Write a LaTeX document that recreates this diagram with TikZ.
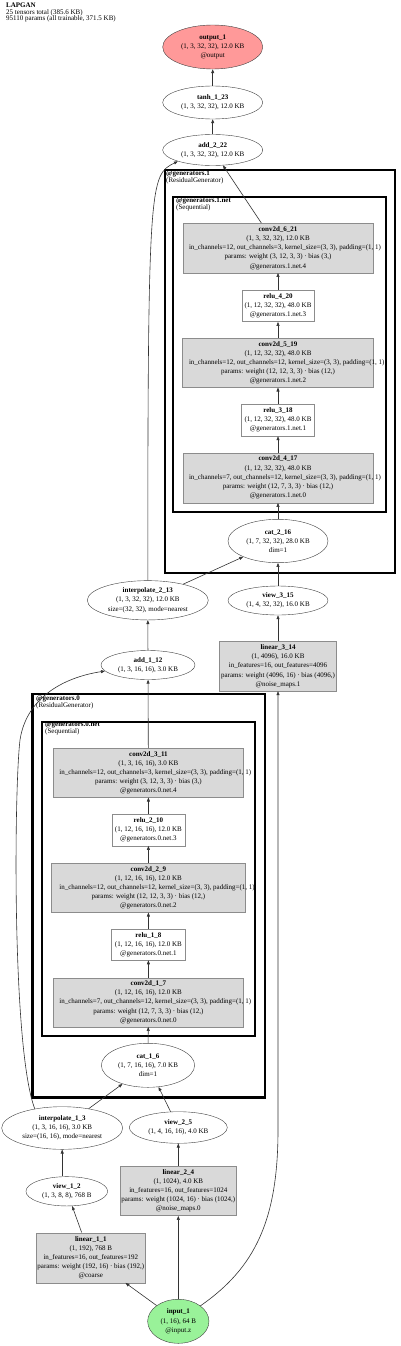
\documentclass[tikz,border=0pt]{standalone}
\usepackage{fontspec}
\setmainfont{Liberation Serif}
\usetikzlibrary{arrows.meta,positioning,shapes.geometric}
\definecolor{outred}{HTML}{FF9999}
\definecolor{ingreen}{HTML}{99F299}
\definecolor{opgray}{HTML}{D9D9D9}
\definecolor{edgegray}{HTML}{333333}
\newcommand{\nodefont}{\fontsize{7}{9.2}\selectfont}
\newcommand{\tightfont}{\fontsize{7}{6.8}\selectfont}
\newcommand{\longline}[1]{\makebox[178pt][l]{#1}}
\tikzset{
  tensorell/.style={ellipse, draw=black!75, fill=white, inner sep=0pt,
                    align=center, font=\nodefont},
  opbox/.style={rectangle, draw=black!45, fill=opgray, inner sep=1pt,
                align=center, font=\nodefont},
  relubox/.style={rectangle, draw=black!45, fill=white, inner sep=1pt,
                  align=center, font=\nodefont},
  genbox/.style={rectangle, draw=black, line width=2.6pt, inner sep=0pt},
  netbox/.style={rectangle, draw=black, line width=1.8pt, inner sep=0pt},
  clusterlbl/.style={anchor=north west, inner sep=0pt, align=left, font=\tightfont},
  arr/.style={-{Triangle[length=4pt,width=3pt]}, line width=0.6pt, draw=edgegray}}

\begin{document}
\begin{tikzpicture}[x=1pt,y=-1pt]
    \useasboundingbox (0,0) rectangle (400,1346);
    \node[clusterlbl] (summary) at (6,2.5)
      {\textbf{LAPGAN}\\25 tensors total (385.6 KB)\\95110 params (all trainable, 371.5 KB)};

    % residual generators
    \node[genbox, minimum width=230pt, minimum height=403pt] (gen1) at (280,371.5) {};
    \node[netbox, minimum width=213.3pt, minimum height=314.4pt] (gen1net) at (279.4,354.5) {};
    \node[clusterlbl] (gen1lbl) at (166,171) {\textbf{@generators.1}\\(ResidualGenerator)};
    \node[clusterlbl] (gen1netlbl) at (176,198) {\textbf{@generators.1.net}\\(Sequential)};
    \node[genbox, minimum width=232.7pt, minimum height=403.7pt] (gen0) at (148.7,895.9) {};
    \node[netbox, minimum width=213.3pt, minimum height=314.3pt] (gen0net) at (148.4,878.9) {};
    \node[clusterlbl] (gen0lbl) at (36,695.5) {\textbf{@generators.0}\\(ResidualGenerator)};
    \node[clusterlbl] (gen0netlbl) at (45,722) {\textbf{@generators.0.net}\\(Sequential)};

    % top
    \node[tensorell, fill=outred, minimum width=100pt, minimum height=44pt] (o1) at (212.7,47)
      {\textbf{output\_1}\\(1, 3, 32, 32), 12.0 KB\\@output};
    \node[tensorell, minimum width=100pt, minimum height=33pt] (t123) at (212.7,102.5)
      {\textbf{tanh\_1\_23}\\(1, 3, 32, 32), 12.0 KB};
    \node[tensorell, minimum width=100pt, minimum height=31pt] (a222) at (212.7,150)
      {\textbf{add\_2\_22}\\(1, 3, 32, 32), 12.0 KB};

    % generators.1.net
    \node[opbox, minimum width=190pt, minimum height=49.5pt] (c621) at (278,248)
      {\textbf{conv2d\_6\_21}\\(1, 3, 32, 32), 12.0 KB\\
       \longline{in\_channels=12, out\_channels=3, kernel\_size=(3, 3), padding=(1, 1)}\\
       params: weight (3, 12, 3, 3) · bias (3,)\\@generators.1.net.4};
    \node[relubox, minimum width=72.6pt, minimum height=31.7pt] (r420) at (278,305.8)
      {\textbf{relu\_4\_20}\\(1, 12, 32, 32), 48.0 KB\\@generators.1.net.3};
    \node[opbox, minimum width=191pt, minimum height=49pt] (c519) at (278,362.8)
      {\textbf{conv2d\_5\_19}\\(1, 12, 32, 32), 48.0 KB\\
       \longline{in\_channels=12, out\_channels=12, kernel\_size=(3, 3), padding=(1, 1)}\\
       params: weight (12, 12, 3, 3) · bias (12,)\\@generators.1.net.2};
    \node[relubox, minimum width=73pt, minimum height=32pt] (r318) at (278,420)
      {\textbf{relu\_3\_18}\\(1, 12, 32, 32), 48.0 KB\\@generators.1.net.1};
    \node[opbox, minimum width=190pt, minimum height=50pt] (c417) at (278,477.7)
      {\textbf{conv2d\_4\_17}\\(1, 12, 32, 32), 48.0 KB\\
       \longline{in\_channels=7, out\_channels=12, kernel\_size=(3, 3), padding=(1, 1)}\\
       params: weight (12, 7, 3, 3) · bias (12,)\\@generators.1.net.0};
    \node[tensorell, minimum width=100pt, minimum height=43.4pt] (c216) at (278,541)
      {\textbf{cat\_2\_16}\\(1, 7, 32, 32), 28.0 KB\\dim=1};

    % between the generators
    \node[tensorell, minimum width=121pt, minimum height=39.3pt] (i213) at (147.8,600.3)
      {\textbf{interpolate\_2\_13}\\(1, 3, 32, 32), 12.0 KB\\size=(32, 32), mode=nearest};
    \node[tensorell, minimum width=100pt, minimum height=29pt] (v315) at (278,600.5)
      {\textbf{view\_3\_15}\\(1, 4, 32, 32), 16.0 KB};
    \node[opbox, minimum width=116.7pt, minimum height=49.3pt] (l314) at (278,666.3)
      {\textbf{linear\_3\_14}\\(1, 4096), 16.0 KB\\in\_features=16, out\_features=4096\\
       params: weight (4096, 16) · bias (4096,)\\@noise\_maps.1};
    \node[tensorell, minimum width=94pt, minimum height=29pt] (a112) at (148,665)
      {\textbf{add\_1\_12}\\(1, 3, 16, 16), 3.0 KB};

    % generators.0.net
    \node[opbox, minimum width=190pt, minimum height=49pt] (c311) at (148.4,772.8)
      {\textbf{conv2d\_3\_11}\\(1, 3, 16, 16), 3.0 KB\\
       \longline{in\_channels=12, out\_channels=3, kernel\_size=(3, 3), padding=(1, 1)}\\
       params: weight (3, 12, 3, 3) · bias (3,)\\@generators.0.net.4};
    \node[relubox, minimum width=73.3pt, minimum height=31.4pt] (r210) at (148.4,830)
      {\textbf{relu\_2\_10}\\(1, 12, 16, 16), 12.0 KB\\@generators.0.net.3};
    \node[opbox, minimum width=193.6pt, minimum height=49pt] (c29) at (148.4,887.8)
      {\textbf{conv2d\_2\_9}\\(1, 12, 16, 16), 12.0 KB\\
       \longline{in\_channels=12, out\_channels=12, kernel\_size=(3, 3), padding=(1, 1)}\\
       params: weight (12, 12, 3, 3) · bias (12,)\\@generators.0.net.2};
    \node[relubox, minimum width=73.6pt, minimum height=30.7pt] (r18) at (148.4,944.7)
      {\textbf{relu\_1\_8}\\(1, 12, 16, 16), 12.0 KB\\@generators.0.net.1};
    \node[opbox, minimum width=190.4pt, minimum height=49pt] (c17) at (148.4,1002.2)
      {\textbf{conv2d\_1\_7}\\(1, 12, 16, 16), 12.0 KB\\
       \longline{in\_channels=7, out\_channels=12, kernel\_size=(3, 3), padding=(1, 1)}\\
       params: weight (12, 7, 3, 3) · bias (12,)\\@generators.0.net.0};
    \node[tensorell, minimum width=93.3pt, minimum height=44pt] (c16) at (148,1065.3)
      {\textbf{cat\_1\_6}\\(1, 7, 16, 16), 7.0 KB\\dim=1};

    % bottom
    \node[tensorell, minimum width=121pt, minimum height=42.6pt] (i13) at (62.2,1128)
      {\textbf{interpolate\_1\_3}\\(1, 3, 16, 16), 3.0 KB\\size=(16, 16), mode=nearest};
    \node[tensorell, minimum width=98pt, minimum height=31.6pt] (v25) at (178.3,1127.5)
      {\textbf{view\_2\_5}\\(1, 4, 16, 16), 4.0 KB};
    \node[opbox, minimum width=116pt, minimum height=49.7pt] (l24) at (178.3,1190.8)
      {\textbf{linear\_2\_4}\\(1, 1024), 4.0 KB\\in\_features=16, out\_features=1024\\
       params: weight (1024, 16) · bias (1024,)\\@noise\_maps.0};
    \node[tensorell, minimum width=81.7pt, minimum height=29.3pt] (v12) at (66.8,1191.3)
      {\textbf{view\_1\_2}\\(1, 3, 8, 8), 768 B};
    \node[opbox, minimum width=109.7pt, minimum height=50pt] (l11) at (90.8,1257.7)
      {\textbf{linear\_1\_1}\\(1, 192), 768 B\\in\_features=16, out\_features=192\\
       params: weight (192, 16) · bias (192,)\\@coarse};
    \node[tensorell, fill=ingreen, minimum width=61.3pt, minimum height=44pt] (in1) at (178.3,1321.3)
      {\textbf{input\_1}\\(1, 16), 64 B\\@input.z};

    \draw[arr] (in1) -- (l11);
    \draw[arr] (in1) -- (l24);
    \draw[arr] (in1.35) .. controls (255,1268) and (278,1220) .. (278,1130) -- (l314.south);
    \draw[arr] (l11) -- (v12);
    \draw[arr] (v12.north -| i13.north) -- (i13.south);
    \draw[arr] (l24) -- (v25);
    \draw[arr] (v25) -- (c16);
    \draw[arr] (i13) -- (c16);
    \draw[arr] (i13.145) .. controls (12,1050) and (14,790) .. (20,740)
      .. controls (26,700) and (60,678) .. (a112.188);
    \draw[arr] (c16) -- (c17);
    \draw[arr] (c17) -- (r18);
    \draw[arr] (r18) -- (c29);
    \draw[arr] (c29) -- (r210);
    \draw[arr] (r210) -- (c311);
    \draw[arr] (c311) -- (a112);
    \draw[arr] (a112) -- (i213);
    \draw[arr] (i213) -- (c216);
    \draw[arr] (i213.north) .. controls (147.8,180) and (150,175) .. (a222.198);
    \draw[arr] (l314) -- (v315);
    \draw[arr] (v315) -- (c216);
    \draw[arr] (c216) -- (c417);
    \draw[arr] (c417) -- (r318);
    \draw[arr] (r318) -- (c519);
    \draw[arr] (c519) -- (r420);
    \draw[arr] (r420) -- (c621);
    \draw[arr] (c621) -- (a222);
    \draw[arr] (a222) -- (t123);
    \draw[arr] (t123) -- (o1);
  \end{tikzpicture}
\end{document}
